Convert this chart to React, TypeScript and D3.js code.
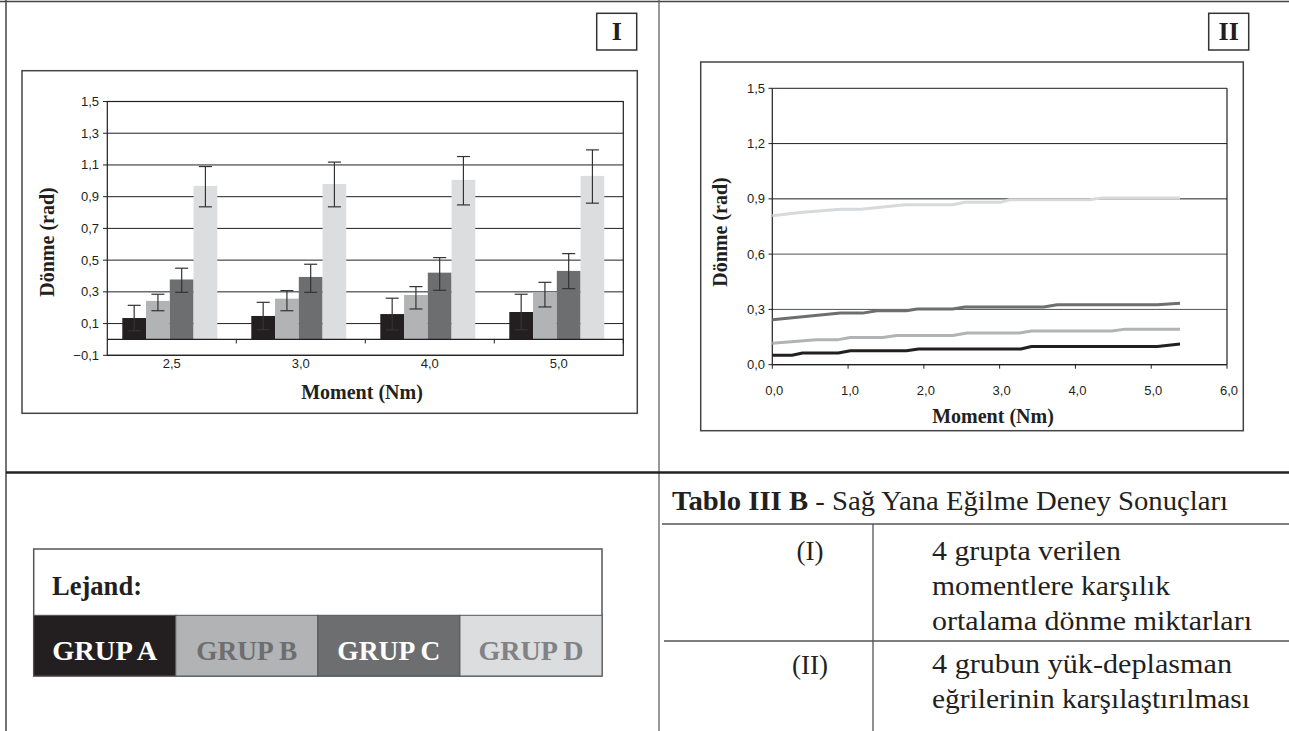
import React from "react";
import * as d3 from "d3";

// ---------- DATA ----------
const moments = ["2,5", "3,0", "4,0", "5,0"];
const groupNames = ["GRUP A", "GRUP B", "GRUP C", "GRUP D"];
const groupColors = ["#231f20", "#b1b3b5", "#6d6e70", "#dcdddf"];
const legendTextColors = ["#ffffff", "#6d6e70", "#ffffff", "#808285"];
const legendTextWidths = [105, 101, 103, 105];

// Panel I: mean rotation per group at each moment
const meanA = [0.135, 0.148, 0.16, 0.173];
const meanB = [0.243, 0.257, 0.28, 0.295];
const meanC = [0.378, 0.394, 0.421, 0.432];
const meanD = [0.968, 0.98, 1.006, 1.031];
// error bar ends
const highA = [0.215, 0.234, 0.26, 0.285];
const lowA = [0.055, 0.062, 0.06, 0.061];
const highB = [0.285, 0.308, 0.333, 0.36];
const lowB = [0.181, 0.181, 0.192, 0.205];
const highC = [0.449, 0.474, 0.516, 0.541];
const lowC = [0.297, 0.297, 0.31, 0.32];
const highD = [1.09, 1.118, 1.153, 1.195];
const lowD = [0.836, 0.836, 0.848, 0.859];

const barTicks = [-0.1, 0.1, 0.3, 0.5, 0.7, 0.9, 1.1, 1.3, 1.5];

// Panel II: load-displacement curves
const lineAx = [0, 0.26, 0.4, 0.87, 1.03, 1.77, 1.93, 3.28, 3.42, 5.08, 5.38];
const lineAy = [0.051, 0.051, 0.063, 0.063, 0.076, 0.076, 0.085, 0.085, 0.099, 0.099, 0.112];
const lineBx = [0, 0.58, 0.87, 1.03, 1.46, 1.64, 2.38, 2.57, 3.26, 3.42, 4.48, 4.66, 5.38];
const lineBy = [0.117, 0.136, 0.136, 0.148, 0.148, 0.159, 0.159, 0.172, 0.172, 0.183, 0.183, 0.193, 0.193];
const lineCx = [0, 0.9, 1.19, 1.38, 1.77, 1.91, 2.38, 2.54, 3.58, 3.76, 5.08, 5.38];
const lineCy = [0.244, 0.28, 0.28, 0.293, 0.293, 0.302, 0.302, 0.313, 0.313, 0.325, 0.325, 0.334];
const lineDx = [0, 0.37, 0.9, 1.17, 1.75, 2.38, 2.54, 3.02, 3.13, 4.18, 4.34, 5.38];
const lineDy = [0.808, 0.826, 0.844, 0.844, 0.868, 0.868, 0.882, 0.882, 0.895, 0.895, 0.904, 0.904];

const lineYTicks = [0, 0.3, 0.6, 0.9, 1.2, 1.5];
const lineXTicks = [0, 1, 2, 3, 4, 5, 6];

const tableRow1 = ["4 grupta verilen", "momentlere karşılık", "ortalama dönme miktarları"];
const tableRow2 = ["4 grubun yük-deplasman", "eğrilerinin karşılaştırılması"];

// ---------- HELPERS ----------
const fmt = (v: number) => d3.format(".1f")(v).replace(".", ",");
const SERIF = "'Liberation Serif', 'Times New Roman', serif";
const SANS = "'Liberation Sans', Arial, sans-serif";
const INK = "#231f20";

export default function App() {
  // ---- Panel I scales ----
  const yI = d3.scaleLinear().domain([-0.1, 1.5]).range([355.3, 101.5]);
  const xI = d3.scaleBand<string>().domain(moments).range([107.3, 623.3]).padding(0);
  const bw = xI.bandwidth();
  const xIn = d3.scaleBand<string>().domain(groupNames).range([15, bw - 19]).padding(0);
  const means = [meanA, meanB, meanC, meanD];
  const highs = [highA, highB, highC, highD];
  const lows = [lowA, lowB, lowC, lowD];

  // ---- Panel II scales ----
  const xII = d3.scaleLinear().domain([0, 6]).range([772.3, 1227]);
  const yII = d3.scaleLinear().domain([0, 1.5]).range([364.7, 88.3]);
  const lineGen = d3
    .line<[number, number]>()
    .x((d) => xII(d[0]))
    .y((d) => yII(d[1]));
  const series = [
    { xs: lineAx, ys: lineAy, c: groupColors[0] },
    { xs: lineBx, ys: lineBy, c: groupColors[1] },
    { xs: lineCx, ys: lineCy, c: groupColors[2] },
    { xs: lineDx, ys: lineDy, c: "#d8d9db" },
  ];

  const legendX = d3.scaleBand<string>().domain(groupNames).range([33.7, 602]).padding(0);

  return (
    <svg
      width={1289}
      height={731}
      style={{ position: "absolute", left: 0, top: 0, background: "#fff" }}
    >
      <rect x={0} y={0} width={1289} height={731} fill="#fff" />
      {/* outer frame */}
      <line x1={0} x2={1289} y1={1.5} y2={1.5} stroke="#444" strokeWidth={1.5} />
      <line x1={6} x2={6} y1={0} y2={731} stroke="#444" strokeWidth={1.5} />
      <line x1={659} x2={659} y1={0} y2={731} stroke="#555" strokeWidth={1.2} />
      <line x1={6} x2={1289} y1={472.5} y2={472.5} stroke="#222" strokeWidth={2.5} />

      {/* ---------- PANEL I ---------- */}
      <rect x={596.7} y={13.3} width={40} height={36.7} fill="none" stroke="#333" strokeWidth={1.5} />
      <text x={616.7} y={40} textAnchor="middle" fontFamily={SERIF} fontWeight="bold" fontSize={26} fill={INK}>
        I
      </text>
      <rect x={22} y={70.7} width={615.3} height={342.6} fill="none" stroke="#444" strokeWidth={1.5} />

      {/* gridlines */}
      {barTicks.map((t) => (
        <g key={"gI" + t}>
          <line x1={107.3} x2={623.3} y1={yI(t)} y2={yI(t)} stroke={INK} strokeWidth={1} />
          <line x1={103} x2={107.3} y1={yI(t)} y2={yI(t)} stroke={INK} strokeWidth={1} />
          <text x={99} y={yI(t) + 4.5} textAnchor="end" fontFamily={SANS} fontSize={13} fill={INK}>
            {fmt(t)}
          </text>
        </g>
      ))}
      {/* bars */}
      {moments.map((m, i) => (
        <g key={"cat" + m} transform={`translate(${xI(m)},0)`}>
          {groupNames.map((g, j) => {
            const x = xIn(g)!;
            const w = xIn.bandwidth();
            const v = means[j][i];
            return (
              <rect key={g} x={x} y={yI(v)} width={w} height={yI(0) - yI(v)} fill={groupColors[j]} />
            );
          })}
          {groupNames.map((g, j) => {
            const cx = xIn(g)! + xIn.bandwidth() / 2;
            const hi = yI(highs[j][i]);
            const lo = yI(lows[j][i]);
            return (
              <g key={"e" + g} stroke="#333" strokeWidth={1.2}>
                <line x1={cx} x2={cx} y1={hi} y2={lo} />
                <line x1={cx - 6.5} x2={cx + 6.5} y1={hi} y2={hi} />
                <line x1={cx - 6.5} x2={cx + 6.5} y1={lo} y2={lo} />
              </g>
            );
          })}
          <text
            x={bw / 2}
            y={368}
            textAnchor="middle"
            fontFamily={SANS}
            fontSize={13}
            fill={INK}
          >
            {m}
          </text>
        </g>
      ))}
      {/* category axis at zero */}
      <line x1={107.3} x2={623.3} y1={yI(0)} y2={yI(0)} stroke={INK} strokeWidth={1.2} />
      {moments.map((m) => (
        <line key={"tk" + m} x1={xI(m)! + bw} x2={xI(m)! + bw} y1={yI(0)} y2={yI(0) + 4} stroke={INK} strokeWidth={1} />
      ))}
      {/* plot border */}
      <rect x={107.3} y={yI(1.5)} width={516} height={yI(-0.1) - yI(1.5)} fill="none" stroke={INK} strokeWidth={1.2} />
      <text
        transform={`translate(54,242) rotate(-90)`}
        textAnchor="middle"
        fontFamily={SERIF}
        fontWeight="bold"
        fontSize={20}
        fill={INK}
      >
        Dönme (rad)
      </text>
      <text x={362} y={399} textAnchor="middle" fontFamily={SERIF} fontWeight="bold" fontSize={20} fill={INK}>
        Moment (Nm)
      </text>

      {/* ---------- PANEL II ---------- */}
      <rect x={1208.7} y={13.3} width={40} height={36.7} fill="none" stroke="#333" strokeWidth={1.5} />
      <text x={1228.7} y={40} textAnchor="middle" fontFamily={SERIF} fontWeight="bold" fontSize={26} fill={INK}>
        II
      </text>
      <rect x={700.7} y={62} width={542.6} height={368.7} fill="none" stroke="#444" strokeWidth={1.5} />
      {lineYTicks.map((t) => (
        <g key={"gII" + t}>
          <line x1={772.3} x2={1227} y1={yII(t)} y2={yII(t)} stroke={t === 0.3 || t === 0.6 ? "#555" : INK} strokeWidth={1} />
          <line x1={768.5} x2={772.3} y1={yII(t)} y2={yII(t)} stroke={INK} strokeWidth={1} />
          <text x={765} y={yII(t) + 4.5} textAnchor="end" fontFamily={SANS} fontSize={13} fill={INK}>
            {fmt(t)}
          </text>
        </g>
      ))}
      {lineXTicks.map((t) => (
        <g key={"xII" + t}>
          <line x1={xII(t)} x2={xII(t)} y1={yII(0)} y2={yII(0) + 4} stroke={INK} strokeWidth={1} />
          <text x={xII(t) + 2} y={395} textAnchor="middle" fontFamily={SANS} fontSize={13} fill={INK}>
            {fmt(t)}
          </text>
        </g>
      ))}
      <line x1={772.3} x2={772.3} y1={yII(1.5)} y2={yII(0)} stroke={INK} strokeWidth={1.2} />
      <line x1={1227} x2={1227} y1={yII(1.5)} y2={yII(0)} stroke={INK} strokeWidth={1.2} />
      <line x1={772.3} x2={1227} y1={yII(0)} y2={yII(0)} stroke={INK} strokeWidth={1.2} />
      {series.map((s, k) => (
        <path
          key={"ln" + k}
          d={lineGen(s.xs.map((x, i) => [x, s.ys[i]] as [number, number])) || ""}
          fill="none"
          stroke={s.c}
          strokeWidth={3}
          strokeLinejoin="round"
        />
      ))}
      <text
        transform={`translate(727,232) rotate(-90)`}
        textAnchor="middle"
        fontFamily={SERIF}
        fontWeight="bold"
        fontSize={20}
        fill={INK}
      >
        Dönme (rad)
      </text>
      <text x={993} y={423} textAnchor="middle" fontFamily={SERIF} fontWeight="bold" fontSize={20} fill={INK}>
        Moment (Nm)
      </text>

      {/* ---------- LEGEND ---------- */}
      <rect x={33.7} y={549} width={568.3} height={127} fill="#fff" stroke="#555" strokeWidth={1.5} />
      <text x={52} y={595} fontFamily={SERIF} fontWeight="bold" fontSize={27} fill={INK} textLength={90} lengthAdjust="spacingAndGlyphs">
        Lejand:
      </text>
      {groupNames.map((g, j) => (
        <g key={"lg" + g}>
          <rect x={legendX(g)} y={615.3} width={legendX.bandwidth()} height={60.7} fill={groupColors[j]} stroke="#555" strokeWidth={1} />
          <text
            x={legendX(g)! + legendX.bandwidth() / 2}
            y={660}
            textAnchor="middle"
            fontFamily={SERIF}
            fontWeight="bold"
            fontSize={27}
            fill={legendTextColors[j]}
            textLength={legendTextWidths[j]}
            lengthAdjust="spacingAndGlyphs"
          >
            {g}
          </text>
        </g>
      ))}

      {/* ---------- TABLE ---------- */}
      <text x={672} y={510} fontFamily={SERIF} fontSize={27} fill={INK} textLength={556} lengthAdjust="spacingAndGlyphs">
        <tspan fontWeight="bold">Tablo III B</tspan>
        <tspan> - Sağ Yana Eğilme Deney Sonuçları</tspan>
      </text>
      <line x1={662} x2={1289} y1={524} y2={524} stroke="#555" strokeWidth={1.5} />
      <line x1={873} x2={873} y1={524} y2={731} stroke="#444" strokeWidth={1.2} />
      <line x1={664} x2={1289} y1={641} y2={641} stroke="#555" strokeWidth={1.5} />
      <text x={810} y={560} textAnchor="middle" fontFamily={SERIF} fontSize={27} fill={INK}>
        (I)
      </text>
      <text x={810} y={674} textAnchor="middle" fontFamily={SERIF} fontSize={27} fill={INK}>
        (II)
      </text>
      {tableRow1.map((t, i) => (
        <text
          key={"r1" + i}
          x={932}
          y={560 + i * 35}
          fontFamily={SERIF}
          fontSize={27}
          fill={INK}
          textLength={[189, 238, 320][i]}
          lengthAdjust="spacingAndGlyphs"
        >
          {t}
        </text>
      ))}
      {tableRow2.map((t, i) => (
        <text
          key={"r2" + i}
          x={932}
          y={673 + i * 35}
          fontFamily={SERIF}
          fontSize={27}
          fill={INK}
          textLength={[300, 318][i]}
          lengthAdjust="spacingAndGlyphs"
        >
          {t}
        </text>
      ))}
    </svg>
  );
}
